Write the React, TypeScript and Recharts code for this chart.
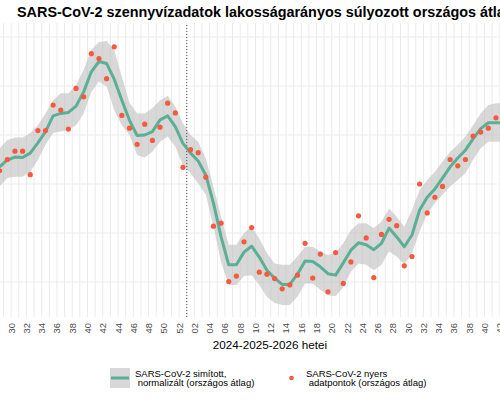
import { Area, CartesianGrid, ComposedChart, Line, ReferenceLine, Scatter, XAxis, YAxis } from "recharts";

// week index 0 = week 30; samples start half a week before week 29
const FIRST_SAMPLE = -1.5;

const tickLabels = [
  "30", "32", "34", "36", "38", "40", "42", "44", "46", "48", "50", "52",
  "02", "04", "06", "08", "10", "12", "14", "16", "18", "20", "22", "24",
  "26", "28", "30", "32", "34", "36", "38", "40", "42",
];
const yearBreakWeek = 23; // week 01

const rawValues = [
  32.7, 35.0, 36.7, 36.7, 31.9, 40.9, 40.9, 46.1, 45.1, 41.2, 49.5, 47.8, 56.6, 55.6, 51.5, 58.0,
  44.0, 41.4, 38.1, 42.2, 38.9, 41.6, 46.5, 44.5, 33.4, 37.0, 36.4, 31.4, 21.4, 22.0, 10.1, 11.2,
  18.2, 21.1, 12.0, 11.6, 10.7, 8.6, 9.4, 11.4, 17.9, 10.8, 15.7, 8.0, 16.0, 9.7, 14.1, 23.5,
  19.0, 10.9, 19.7, 22.8, 21.5, 13.3, 15.2, 30.0, 24.1, 27.3, 29.5, 35.0, 33.7, 35.0, 39.8, 40.6,
  41.4, 43.5,
];

const smoothValues = [
  33.5, 34.9, 35.5, 35.4, 36.3, 38.4, 40.7, 43.9, 44.4, 44.6, 45.9, 48.8, 52.9, 55.0, 54.6, 51.4,
  47.1, 43.0, 39.9, 40.0, 40.7, 43.1, 43.9, 41.7, 38.3, 36.3, 34.7, 31.8, 26.1, 19.2, 13.5, 13.5,
  16.1, 17.3, 15.1, 12.4, 10.8, 9.5, 9.5, 11.6, 14.3, 14.2, 13.1, 11.7, 11.4, 13.9, 16.5, 18.0,
  17.6, 16.6, 17.9, 21.0, 19.2, 17.2, 19.6, 24.7, 27.3, 29.0, 31.2, 33.5, 35.3, 36.9, 39.2, 41.3,
  42.5, 42.5, 42.5,
];

const upperValues = [
  37.3, 39.0, 39.5, 39.5, 40.4, 42.0, 44.4, 47.1, 48.5, 48.5, 50.2, 53.3, 57.4, 59.0, 59.2, 57.4,
  51.9, 46.6, 44.4, 44.4, 45.5, 47.1, 48.0, 45.8, 42.4, 40.0, 38.6, 35.2, 29.4, 23.3, 17.6, 17.6,
  20.0, 21.3, 18.9, 15.9, 13.8, 13.5, 13.5, 15.2, 17.2, 17.2, 16.2, 15.5, 15.9, 17.9, 20.6, 22.0,
  22.0, 21.0, 22.3, 25.0, 23.3, 21.3, 24.7, 28.8, 30.8, 32.5, 34.6, 36.6, 38.0, 39.7, 42.0, 44.4,
  46.1, 46.5, 46.5,
];

const lowerValues = [
  29.5, 31.2, 31.5, 31.5, 32.5, 34.9, 38.0, 40.4, 40.7, 41.0, 42.0, 44.4, 48.8, 50.9, 49.9, 45.1,
  42.0, 40.0, 35.9, 35.4, 36.6, 38.6, 39.7, 37.6, 33.9, 32.2, 30.1, 27.8, 21.3, 14.1, 9.4, 9.4,
  11.2, 11.4, 9.4, 7.0, 5.7, 5.3, 5.3, 7.0, 9.7, 9.7, 8.4, 7.3, 7.1, 9.0, 12.1, 13.8,
  13.5, 12.4, 13.5, 16.2, 15.2, 13.5, 15.9, 20.3, 24.0, 26.1, 27.8, 29.5, 30.8, 32.2, 34.9, 37.3,
  38.6, 38.6, 38.6,
];

const yGrid = [10, 20, 30, 40, 50, 60];

const smoothData = smoothValues.map((s, i) => ({
  w: FIRST_SAMPLE + i,
  smooth: s,
  band: [lowerValues[i], upperValues[i]],
}));
const pointData = rawValues.map((r, i) => ({ w: FIRST_SAMPLE + i, raw: r }));

const gridWeeks = Array.from({ length: 66 }, (_, i) => i - 1);
const labelWeeks = tickLabels.map((_, i) => i * 2);

const FONT = "'Liberation Sans', Arial, sans-serif";
const TEAL = "#5BAF96";
const RED = "#F65A3E";
const RIBBON = "#BEBEBE";

function WeekTick(props: any) {
  const { x, y, payload } = props;
  const idx = labelWeeks.indexOf(payload.value);
  if (idx < 0) return null;
  return (
    <text
      x={x}
      y={y}
      transform={`rotate(-90 ${x} ${y})`}
      textAnchor="end"
      dominantBaseline="central"
      fontSize={9.4}
      fontFamily={FONT}
      fill="#4D4D4D"
    >
      {tickLabels[idx]}
    </text>
  );
}

export default function App() {
  return (
    <div style={{ position: "absolute", left: 0, top: 0, width: 500, height: 400, background: "#fff" }}>
      <ComposedChart
        width={500}
        height={400}
        data={smoothData}
        margin={{ top: 23, right: 0, bottom: 53, left: 0 }}
      >
        <CartesianGrid
          stroke="#EBEBEB"
          strokeWidth={1}
          verticalValues={gridWeeks}
          horizontalValues={yGrid}
        />
        <XAxis
          dataKey="w"
          type="number"
          domain={[-1.46, 64.03]}
          allowDataOverflow
          ticks={gridWeeks}
          interval={0}
          tick={<WeekTick />}
          tickLine={false}
          axisLine={false}
          tickSize={0}
          tickMargin={6}
          height={30}
        />
        <YAxis type="number" domain={[2.857, 62.857]} allowDataOverflow ticks={yGrid} hide />
        <Area
          dataKey="band"
          type="linear"
          stroke="none"
          fill={RIBBON}
          fillOpacity={0.6}
          isAnimationActive={false}
          activeDot={false}
        />
        <ReferenceLine x={yearBreakWeek} stroke="#555" strokeWidth={1} strokeDasharray="1 2" />
        <Line
          dataKey="smooth"
          type="linear"
          stroke={TEAL}
          strokeWidth={3}
          strokeLinejoin="round"
          dot={false}
          activeDot={false}
          isAnimationActive={false}
        />
        <Scatter
          data={pointData}
          dataKey="raw"
          isAnimationActive={false}
          shape={(p: any) => <circle cx={p.cx} cy={p.cy} r={2.6} fill={RED} />}
        />
      </ComposedChart>
      <svg
        width={500}
        height={400}
        style={{ position: "absolute", left: 0, top: 0, pointerEvents: "none" }}
        fontFamily={FONT}
      >
        <text x={17} y={17} fontSize={14.4} fontWeight="bold" fill="#000">
          SARS-CoV-2 szennyvízadatok lakosságarányos súlyozott országos átlaga
        </text>
        <text x={270} y={349} fontSize={11.7} textAnchor="middle" fill="#000">
          2024-2025-2026 hetei
        </text>
        <rect x={110} y={368} width={20} height={20} fill={RIBBON} fillOpacity={0.6} />
        <line x1={111} x2={129} y1={378} y2={378} stroke={TEAL} strokeWidth={3} />
        <text fontSize={9.5} fill="#000" style={{ whiteSpace: "pre" }}>
          <tspan x={135} y={376.5}>SARS-CoV-2 simított,</tspan>
          <tspan x={135} y={386}> normalizált (országos átlag)</tspan>
        </text>
        <circle cx={291.5} cy={378} r={2.3} fill={RED} />
        <text fontSize={9.5} fill="#000" style={{ whiteSpace: "pre" }}>
          <tspan x={306} y={376.5}>SARS-CoV-2 nyers</tspan>
          <tspan x={306} y={386}> adatpontok (országos átlag)</tspan>
        </text>
      </svg>
    </div>
  );
}
